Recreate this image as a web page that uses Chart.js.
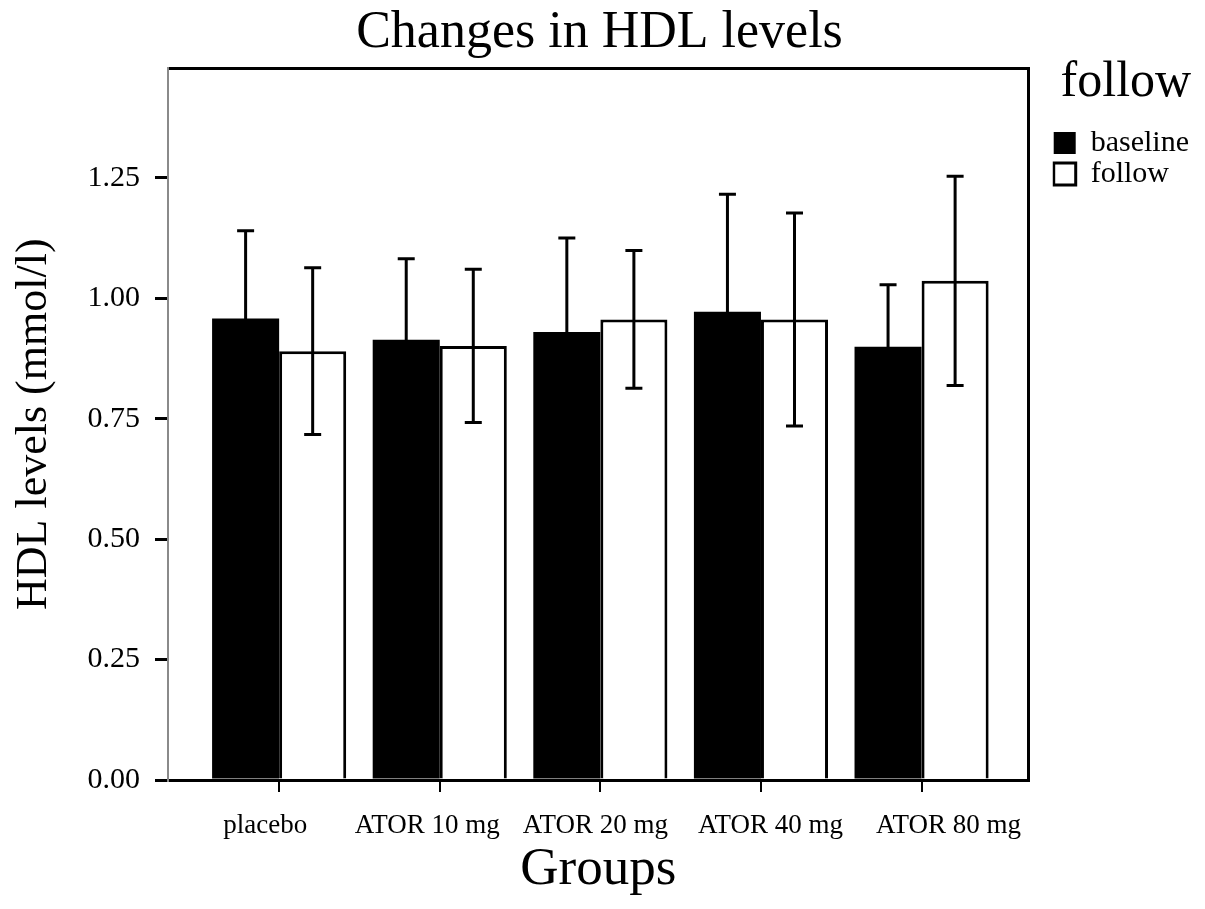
<!DOCTYPE html>
<html>
<head>
<meta charset="utf-8">
<title>Changes in HDL levels</title>
<script src="https://cdn.jsdelivr.net/npm/chart.js@4.4.1/dist/chart.umd.min.js"></script>
<style>
  html, body { margin: 0; padding: 0; background: #fff; }
  #wrap { width: 1205px; height: 909px; position: relative; }
</style>
</head>
<body>
<div id="wrap"><canvas id="hdlChart"></canvas></div>
<script>
// ---- data ----
const groups = ['placebo', 'ATOR 10 mg', 'ATOR 20 mg', 'ATOR 40 mg', 'ATOR 80 mg'];
const groupPos = [1, 2, 3, 4, 5];
const labelPos = [0.913, 1.922, 2.969, 4.059, 5.168]; // where the group names sit
const baseline = [0.958, 0.914, 0.930, 0.972, 0.899];
const baselineErr = [0.182, 0.168, 0.195, 0.244, 0.129];
const follow = [0.890, 0.901, 0.956, 0.956, 1.036];
const followErr = [0.173, 0.159, 0.143, 0.221, 0.217];
const yTicks = [0, 0.25, 0.5, 0.75, 1.0, 1.25];

const SERIF = "'Liberation Serif', 'Times New Roman', serif";
const X_MIN = 0.308;
const X_MAX = 5.667;

// error bars drawn on top of the bars
const errorBars = {
  id: 'errorBars',
  afterDatasetsDraw(chart) {
    const ctx = chart.ctx;
    const yScale = chart.scales.y;
    const errs = [baselineErr, followErr];
    chart.data.datasets.forEach((ds, i) => {
      const meta = chart.getDatasetMeta(i);
      meta.data.forEach((bar, j) => {
        const v = ds.data[j].y;
        const e = errs[i][j];
        const yHi = yScale.getPixelForValue(v + e);
        const yLo = yScale.getPixelForValue(v - e);
        const cap = 8.5;
        ctx.save();
        ctx.strokeStyle = '#000';
        ctx.lineWidth = 3;
        ctx.beginPath();
        ctx.moveTo(bar.x, yHi);
        ctx.lineTo(bar.x, yLo);
        ctx.moveTo(bar.x - cap, yHi);
        ctx.lineTo(bar.x + cap, yHi);
        ctx.moveTo(bar.x - cap, yLo);
        ctx.lineTo(bar.x + cap, yLo);
        ctx.stroke();
        ctx.restore();
      });
    });
  }
};

function initChart() {
  const ctx = document.getElementById('hdlChart');

  new Chart(ctx, {
    type: 'bar',
    data: {
      datasets: [{
        label: 'baseline',
        data: groupPos.map((x, i) => ({ x: x, y: baseline[i] })),
        backgroundColor: '#000',
        borderColor: '#000',
        borderWidth: 0
      }, {
        label: 'follow',
        data: groupPos.map((x, i) => ({ x: x, y: follow[i] })),
        backgroundColor: '#fff',
        borderColor: '#000',
        borderWidth: 3
      }]
    },
    options: {
      responsive: true,
      maintainAspectRatio: false,
      animation: false,
      categoryPercentage: 0.835,
      barPercentage: 1.0,
      layout: { padding: { left: 0, right: 6, top: 0, bottom: 0 } },
      plugins: {
        title: {
          display: true,
          text: 'Changes in HDL levels',
          color: '#000',
          font: { family: SERIF, size: 52, weight: 'normal' },
          padding: { top: 2, bottom: 4 }
        },
        legend: {
          display: true,
          position: 'right',
          align: 'start',
          title: {
            display: true,
            text: 'follow',
            color: '#000',
            font: { family: SERIF, size: 50, weight: 'normal' },
            padding: { top: 58, bottom: 9 }
          },
          labels: {
            color: '#000',
            font: { family: SERIF, size: 30 },
            boxWidth: 22,
            boxHeight: 22,
            padding: 1
          }
        },
        tooltip: { enabled: false }
      },
      scales: {
        x: {
          type: 'linear',
          position: 'bottom',
          offset: false,
          min: X_MIN,
          max: X_MAX,
          weight: 0,
          ticks: { display: false, stepSize: 1, includeBounds: false },
          grid: { display: true, offset: false, drawOnChartArea: false, drawTicks: true, tickLength: 12, color: '#000', lineWidth: 2 },
          border: { display: true, color: '#000', width: 3 },
          afterFit: (s) => { s.height = 12; }
        },
        x2: {
          type: 'linear',
          position: 'bottom',
          offset: false,
          min: X_MIN,
          max: X_MAX,
          weight: 1,
          afterBuildTicks: (s) => { s.ticks = labelPos.map(v => ({ value: v })); },
          ticks: {
            autoSkip: false,
            maxRotation: 0,
            color: '#000',
            padding: 18,
            font: { family: SERIF, size: 27 },
            callback: (v, i) => groups[i]
          },
          grid: { display: false, drawTicks: false },
          border: { display: false },
          title: {
            display: true,
            text: 'Groups',
            color: '#000',
            font: { family: SERIF, size: 53 },
            padding: { top: 0, bottom: 7 }
          },
          afterFit: (s) => { s.height = 117; }
        },
        xTop: {
          type: 'linear',
          position: 'top',
          min: 0,
          max: 1,
          ticks: { display: false },
          grid: { display: false, drawTicks: false },
          border: { display: true, color: '#000', width: 3 },
          afterFit: (s) => { s.height = 0; }
        },
        y: {
          min: 0,
          max: 1.477,
          afterBuildTicks: (s) => { s.ticks = yTicks.map(v => ({ value: v })); },
          ticks: {
            color: '#000',
            padding: 15,
            font: { family: SERIF, size: 30 },
            callback: (v) => Number(v).toFixed(2)
          },
          grid: { display: true, drawOnChartArea: false, drawTicks: true, tickLength: 13, color: '#000', lineWidth: 3 },
          border: { display: true, color: '#8a8a8a', width: 2 },
          title: {
            display: true,
            text: 'HDL levels (mmol/l)',
            color: '#000',
            font: { family: SERIF, size: 44 },
            padding: { top: 8, bottom: 0 }
          },
          afterFit: (s) => { s.width = 168; }
        },
        yRight: {
          type: 'linear',
          position: 'right',
          min: 0,
          max: 1,
          ticks: { display: false },
          grid: { display: false, drawTicks: false },
          border: { display: true, color: '#000', width: 3 },
          afterFit: (s) => { s.width = 24; }
        }
      }
    },
    plugins: [errorBars]
  });
}

document.addEventListener('DOMContentLoaded', initChart);
</script>
</body>
</html>
